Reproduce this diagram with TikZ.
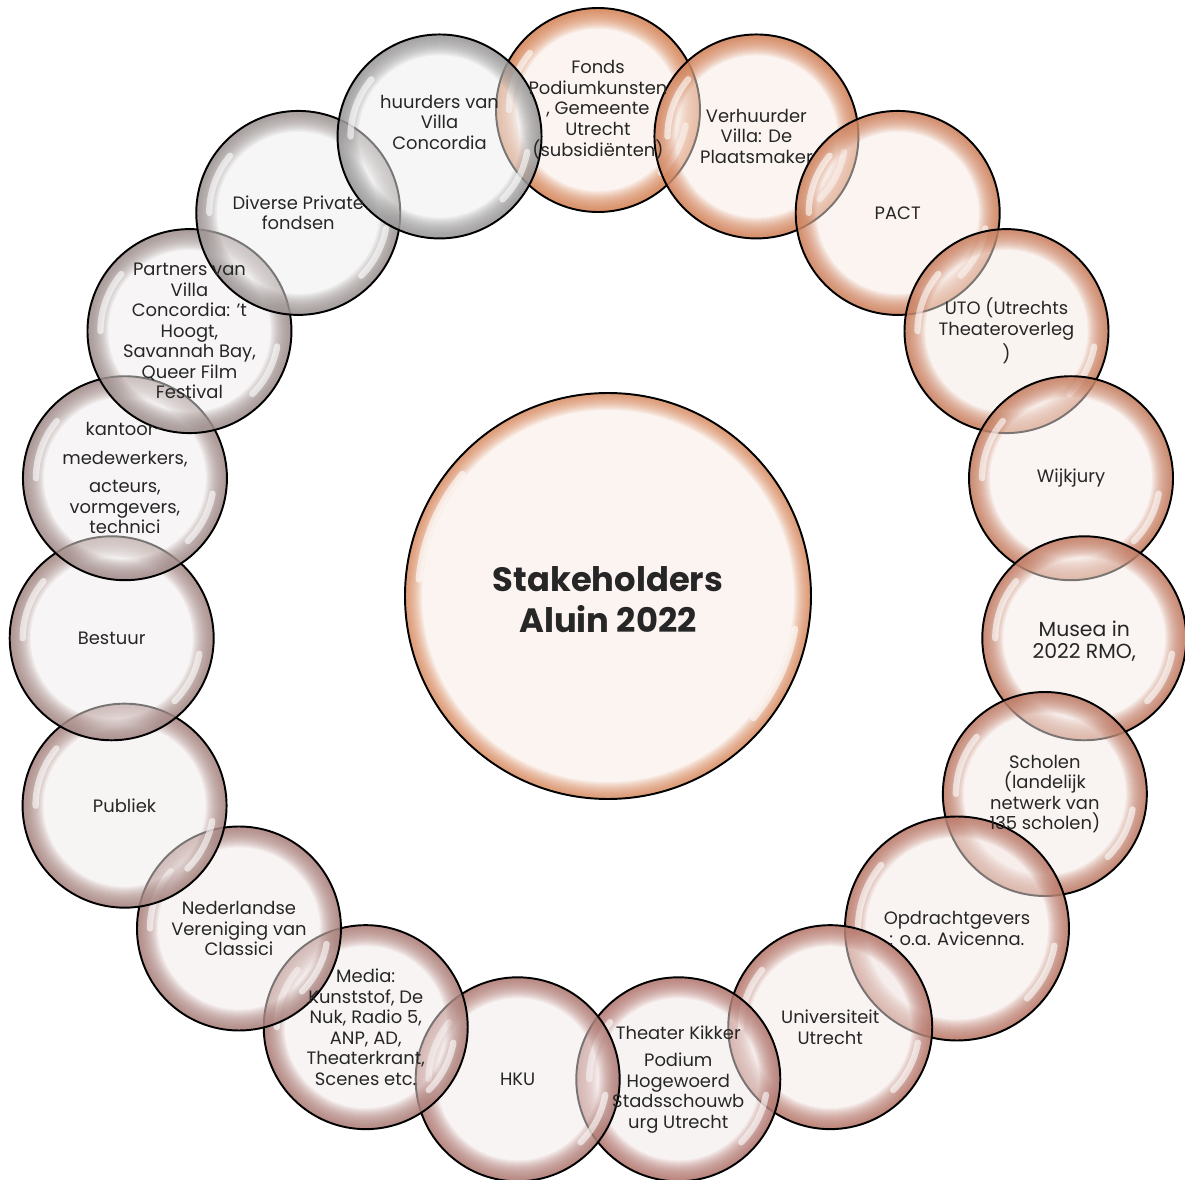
\documentclass[tikz,border=0pt]{standalone}
\usepackage{fontspec}
\setmainfont{Poppins}
\definecolor{bubA}{RGB}{214,126,78}
\definecolor{bubB}{RGB}{176,112,104}
\definecolor{bubC}{RGB}{148,146,146}
\colorlet{bubcol}{bubA}
\tikzset{
  bubble/.style={circle, draw=black, line width=0.55pt, inner sep=0pt},
  bubfill/.style={fill=bubcol!16!white, fill opacity=0.5},
  bubring/.style={draw=bubcol, opacity=0.075},
  lbl/.style={align=center, text=black!85, inner sep=0pt, font=\fontsize{5.1}{5.85}\selectfont},
  glint/.style={white, line width=1.8pt, opacity=0.6, line cap=round}
}
\begin{document}
\begin{tikzpicture}
  %Stakeholders, ring
    \useasboundingbox (-5.98,-5.82) rectangle (5.87,5.98);
    \def\RR{4.88}
    % hub
    \colorlet{bubcol}{bubA}
    \fill[bubfill] (0.10,0.02) circle[radius=2.03];
    \foreach \w in {0.01,0.02,...,0.18}
      \draw[bubring, line width=\w cm] (0.10,0.02) circle[radius=2.03-\w/2];
    \node[bubble, minimum size=4.06cm] (hub) at (0.10,0.02) {};
    \draw[glint] ([shift={(140:1.9)}]hub.center) arc[start angle=140, end angle=175, radius=1.9];
    \draw[glint] ([shift={(-10:1.9)}]hub.center) arc[start angle=-10, end angle=-40, radius=1.9];
    % ring of stakeholders
    \foreach \i in {0,...,18}{
      \pgfmathsetmacro{\ang}{90-\i*360/19}
      \pgfmathsetmacro{\rad}{\i==13 ? 5.17 : \RR}
      \pgfmathsetmacro{\rb}{\i==7 ? 1.12 : 1.02}
      \pgfmathsetmacro{\dia}{2*\rb}
      \pgfmathsetmacro{\rg}{\rb-0.13}
      \pgfmathtruncatemacro{\pa}{min(\i,9)*100/9}
      \pgfmathtruncatemacro{\pb}{max(\i-9,0)*100/9}
      \colorlet{tmpcol}{bubB!\pa!bubA}
      \colorlet{bubcol}{bubC!\pb!tmpcol}
      \fill[bubfill] (\ang:\rad) circle[radius=\rb];
      \foreach \w in {0.01,0.02,...,0.22}
        \draw[bubring, line width=\w cm] (\ang:\rad) circle[radius=\rb-\w/2];
      \node[bubble, minimum size=\dia cm] (s\i) at (\ang:\rad) {};
      \draw[glint] ([shift={(140:\rg)}]s\i.center) arc[start angle=140, end angle=180, radius=\rg];
      \draw[glint] ([shift={(-10:\rg)}]s\i.center) arc[start angle=-10, end angle=-45, radius=\rg];
    }
    \node[lbl, font=\bfseries\fontsize{9.6}{11.7}\selectfont, yshift=-0.04cm] (hubtxt) at (hub) {Stakeholders\\Aluin 2022};
    \node[lbl] (t0) at (s0) {Fonds\\Podiumkunsten\\, Gemeente\\Utrecht\\(subsidiënten)};
    \node[lbl] (t1) at (s1) {Verhuurder\\Villa: De\\Plaatsmaker};
    \node[lbl] (t2) at (s2) {PACT};
    \node[lbl] (t3) at (s3) {UTO (Utrechts\\Theateroverleg\\)};
    \node[lbl] (t4) at (s4) {Wijkjury};
    \node[lbl, font=\fontsize{5.8}{6.3}\selectfont, yshift=-0.03cm] (t5) at (s5) {Musea in\\2022 RMO,};
    \node[lbl] (t6) at (s6) {Scholen\\(landelijk\\netwerk van\\135 scholen)};
    \node[lbl] (t7) at (s7) {Opdrachtgevers\\: o.a. Avicenna.};
    \node[lbl] (t8) at (s8) {Universiteit\\Utrecht};
    \node[lbl] (t9) at (s9) {Theater Kikker\\[2pt]Podium\\Hogewoerd\\Stadsschouwb\\urg Utrecht};
    \node[lbl] (t10) at (s10) {HKU};
    \node[lbl] (t11) at (s11) {Media:\\Kunststof, De\\Nuk, Radio 5,\\ANP, AD,\\Theaterkrant,\\Scenes etc.};
    \node[lbl] (t12) at (s12) {Nederlandse\\Vereniging van\\Classici};
    \node[lbl] (t13) at (s13) {Publiek};
    \node[lbl] (t14) at (s14) {Bestuur};
    \node[lbl] (t15) at (s15) {kantoor-\\[2.2pt]medewerkers,\\[2.2pt]acteurs,\\vormgevers,\\technici};
    \node[lbl] (t16) at (s16) {Partners van\\Villa\\Concordia: 't\\Hoogt,\\Savannah Bay,\\Queer Film\\Festival};
    \node[lbl] (t17) at (s17) {Diverse Private\\fondsen};
    \node[lbl, yshift=0.14cm] (t18) at (s18) {huurders van\\Villa\\Concordia};
  \end{tikzpicture}
\end{document}
